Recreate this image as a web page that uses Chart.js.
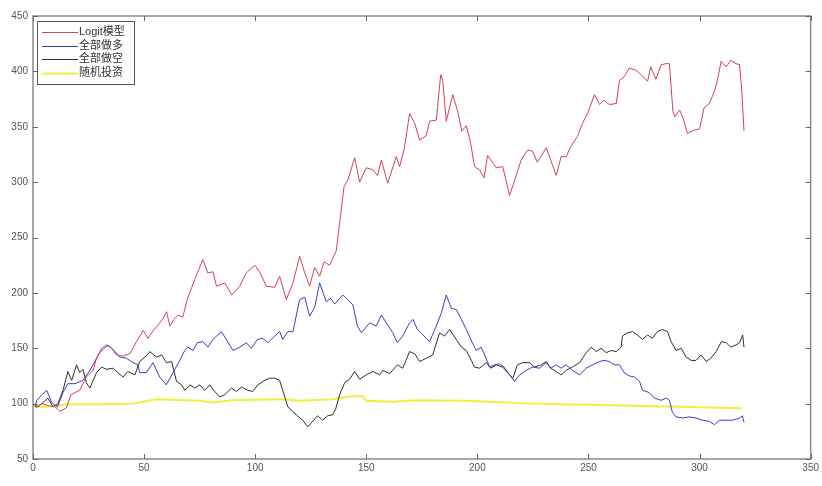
<!DOCTYPE html>
<html>
<head>
<meta charset="utf-8">
<script src="https://cdn.jsdelivr.net/npm/chart.js@4"></script>
<style>
  body { margin: 0; background: #fff; }
  #wrap { width: 822px; height: 486px; }
</style>
</head>
<body>
<div id="wrap"><canvas id="chart" width="822" height="486"></canvas></div>
<script>
// ---------------- DATA ----------------
const seriesNames = ["Logit模型", "全部做多", "全部做空", "随机投资"];

const logitX = [1, 4, 7, 10, 12, 15, 17, 21, 24, 27, 28.6, 30.9, 33.1, 35.3, 37.6, 40.6, 43.6, 46.6, 49.6, 51.8, 54.1, 56.3, 58.6, 60.1, 61.6, 63.4, 65.3, 67.4, 69.4, 72.8, 76.4, 78.7, 81, 82.6, 86.3, 89.5, 93, 96, 99.8, 102, 105, 108.8, 111, 114, 117, 120, 122, 124.5, 126.8, 129, 131, 133.5, 136.5, 138, 140, 141.7, 144.8, 147, 150, 153, 155, 156.8, 159.6, 163.5, 165, 167, 169.5, 171.8, 174, 177, 178.5, 181.5, 183.5, 184.4, 186, 188.9, 191, 193, 195, 197, 198.7, 201, 203, 204.6, 208.5, 211.4, 214.5, 217.5, 219.7, 222.6, 224.8, 227, 231, 233, 235.5, 237.7, 240, 242, 245, 247.3, 249.6, 252.7, 255, 257, 259.4, 262.5, 264, 266, 268.4, 271.4, 273.7, 276.6, 278, 280.4, 282.7, 285, 286.4, 288, 288.8, 291, 292.4, 294.5, 297.7, 300, 302, 304.4, 306.7, 308, 309.7, 312, 314, 316.4, 318, 319, 320];
const logitY = [96, 100, 98, 97, 93, 96, 108, 112, 124, 130, 141, 150, 153, 150, 144, 143, 145, 156, 166, 159, 166, 171, 177, 183, 170, 176, 180, 178, 194, 212, 230, 218, 219, 206, 209, 198, 206, 218, 225, 219, 206, 205, 215, 194, 209, 233, 220, 206, 223, 215, 228, 225, 238, 263, 296, 302, 322, 300, 313, 311, 306, 320, 299, 323, 314, 329, 362, 353, 338, 342, 355, 356, 397, 392, 355, 379, 365, 346, 351, 335, 314, 311, 304, 324, 313, 314, 288, 306, 320, 329, 328, 318, 331, 320, 306, 323, 323, 332, 341, 353, 362, 379, 370, 374, 370, 371, 392, 395, 403, 401, 397, 391, 404, 393, 406, 407, 407, 364, 359, 365, 359, 344, 347, 348, 367, 371, 382, 392, 409, 404, 410, 407, 406, 383, 346];

const longX = [1, 1.7, 4, 6.2, 8.4, 11, 13.5, 15.7, 18.9, 22.5, 25.6, 30, 33.7, 36, 39, 42, 45, 47.2, 48, 51, 54, 57, 60, 63, 65.5, 68.3, 69.7, 72, 74, 76.4, 78.7, 81, 84.8, 87, 90, 93, 96, 98.3, 101, 103.4, 105.7, 108.8, 111, 112.4, 114.7, 117, 120, 122.3, 124.5, 126.8, 129, 132, 134, 135.8, 139.4, 141.7, 144, 146, 147.8, 151.5, 154.5, 156.8, 159, 161.9, 164, 166.4, 169.5, 171, 173, 176, 178.5, 181.5, 183.8, 186, 188.3, 190.5, 192.8, 195, 197, 199.5, 201.7, 203.5, 205.5, 207.7, 210, 212, 214.5, 216.7, 219, 222, 224.8, 228, 231, 233, 235.5, 237.7, 240, 242.8, 246, 249, 251.8, 255, 257, 259.4, 261.7, 264, 266, 268.4, 270.7, 273, 274.3, 277.4, 279.7, 282.7, 285, 286.4, 287.8, 289.4, 292.3, 295.4, 298.4, 301.3, 304.4, 306.7, 309, 312, 314.7, 318, 319.3, 320];
const longY = [97, 103, 108, 112, 101, 97, 110, 118, 118, 121, 130, 146, 153, 149, 142, 141, 137, 135, 128, 128, 137, 124, 117, 128, 137, 148, 151, 148, 155, 156, 151, 158, 165, 158, 148, 151, 155, 150, 158, 159, 155, 161, 165, 158, 165, 165, 194, 196, 179, 187, 209, 192, 195, 190, 198, 194, 189, 170, 164, 173, 170, 180, 173, 164, 155, 161, 173, 176, 167, 161, 156, 170, 182, 198, 186, 185, 176, 167, 158, 148, 151, 143, 133, 135, 136, 133, 126, 120, 126, 130, 133, 132, 137, 132, 135, 132, 135, 130, 126, 132, 135, 138, 139, 138, 135, 135, 128, 125, 124, 120, 112, 110, 105, 103, 105, 103, 92, 88, 87, 88, 87, 85, 84, 81, 85, 85, 85, 87, 89, 83];

const shortX = [0, 2.2, 4.5, 6.7, 9, 11.2, 13.5, 15.7, 17.4, 19.6, 21, 22.5, 24, 25.6, 28.6, 30.9, 33, 36, 38.2, 40.5, 42.7, 45.9, 48, 50.4, 52.6, 55.6, 57.9, 60, 62.4, 64.6, 66.9, 68.3, 70.6, 72.8, 75, 77.3, 79.6, 81.8, 84, 86.3, 89.3, 91.6, 93.8, 96.7, 98.9, 101.2, 104.3, 106.6, 108.8, 111, 113.3, 114.7, 116.9, 119, 121.4, 123.6, 125.9, 128, 130.4, 132.6, 134.9, 136.2, 138, 140.3, 142.5, 144.8, 147, 150, 153, 156, 157.4, 160.5, 164, 166.4, 169.5, 171.8, 174, 177, 179.9, 183, 185.2, 187.5, 190.5, 192.8, 195, 197.3, 198.7, 201, 204, 206, 208.5, 211.4, 214.5, 216, 218, 220.3, 223.5, 225.7, 228.7, 231, 233, 235.5, 237.7, 240, 242.8, 246, 249, 251.2, 253.5, 255.7, 258, 260.2, 262.5, 264.7, 265.3, 267.6, 269.8, 272, 274.3, 276.6, 278.8, 281, 283.3, 285.6, 287.2, 289.4, 291.7, 294, 296.2, 298.4, 300.7, 303, 305, 307.5, 309.8, 312, 314, 316.4, 318, 319.4, 320];
const shortY = [100, 97, 101, 105, 97, 100, 112, 129, 121, 135, 128, 131, 119, 114, 128, 133, 131, 132, 128, 124, 129, 126, 138, 142, 147, 142, 144, 137, 138, 120, 117, 112, 117, 114, 117, 112, 117, 111, 106, 108, 114, 111, 115, 112, 111, 117, 121, 123, 123, 121, 106, 97, 93, 89, 85, 79, 84, 89, 85, 89, 90, 95, 108, 119, 122, 129, 122, 126, 129, 126, 130, 127, 135, 132, 147, 145, 138, 141, 144, 164, 161, 167, 158, 151, 148, 139, 133, 132, 137, 132, 135, 133, 126, 123, 135, 137, 137, 133, 135, 138, 132, 129, 126, 130, 133, 137, 146, 151, 147, 150, 146, 148, 147, 151, 161, 164, 165, 162, 158, 162, 159, 165, 167, 165, 156, 148, 150, 142, 139, 139, 144, 138, 141, 147, 156, 155, 151, 153, 155, 162, 151];

const randX = [0, 5, 10, 15, 30, 45, 50, 55.6, 75, 81, 90, 112.4, 120, 135, 142.5, 148.4, 150, 162, 172.5, 195, 224.8, 255, 285, 319];
const randY = [98, 97, 98, 99.5, 99.5, 100, 102, 104, 102.5, 101, 103, 104, 102.5, 104, 106.7, 106.7, 102.5, 101.7, 103, 102.5, 100, 98.8, 97.3, 95.8];

const seriesColors = ["#d2405a", "#3c3cc8", "#303030", "#f0f03a"];
const seriesWidths = [1, 1, 1, 2];

// ---------------- HELPERS ----------------
function toPoints(xs, ys) {
    return xs.map((x, i) => ({ x: x, y: ys[i] }));
}

// frame with inward ticks on all four sides (matlab style)
const framePlugin = {
    id: "frame",
    afterDraw(chart) {
        const { ctx, chartArea: a, scales } = chart;
        ctx.save();
        ctx.strokeStyle = "#8a8a8a";
        ctx.lineWidth = 1.5;
        ctx.strokeRect(a.left, a.top, a.right - a.left, a.bottom - a.top);
        ctx.lineWidth = 1;
        ctx.strokeStyle = "#666";
        const len = 5;
        ctx.beginPath();
        scales.x.ticks.forEach(t => {
            const px = Math.round(scales.x.getPixelForValue(t.value)) + 0.5;
            ctx.moveTo(px, a.bottom); ctx.lineTo(px, a.bottom - len);
            ctx.moveTo(px, a.top); ctx.lineTo(px, a.top + len);
        });
        scales.y.ticks.forEach(t => {
            const py = Math.round(scales.y.getPixelForValue(t.value)) + 0.5;
            ctx.moveTo(a.left, py); ctx.lineTo(a.left + len, py);
            ctx.moveTo(a.right, py); ctx.lineTo(a.right - len, py);
        });
        ctx.stroke();
        ctx.restore();
    }
};

// boxed legend in the upper left corner
const boxLegendPlugin = {
    id: "boxLegend",
    afterDraw(chart) {
        const ctx = chart.ctx;
        const x0 = 37, y0 = 21, w = 97, h = 63;
        ctx.save();
        ctx.fillStyle = "#fff";
        ctx.fillRect(x0, y0, w, h);
        ctx.strokeStyle = "#555";
        ctx.lineWidth = 1;
        ctx.strokeRect(x0 + 0.5, y0 + 0.5, w, h);
        ctx.font = "11px 'Liberation Sans', 'Noto Sans CJK SC', sans-serif";
        ctx.textBaseline = "middle";
        chart.data.datasets.forEach((ds, i) => {
            const y = y0 + 11 + i * 13.5;
            ctx.strokeStyle = ds.borderColor;
            ctx.lineWidth = ds.borderWidth;
            ctx.beginPath();
            ctx.moveTo(x0 + 5, Math.round(y) + 0.5);
            ctx.lineTo(x0 + 41, Math.round(y) + 0.5);
            ctx.stroke();
            ctx.fillStyle = "#333";
            ctx.fillText(ds.label, x0 + 42, y);
        });
        ctx.restore();
    }
};

// ---------------- CHART ----------------
const allX = [logitX, longX, shortX, randX];
const allY = [logitY, longY, shortY, randY];

new Chart(document.getElementById("chart"), {
    type: "line",
    data: {
        datasets: seriesNames.map((name, i) => ({
            label: name,
            data: toPoints(allX[i], allY[i]),
            borderColor: seriesColors[i],
            borderWidth: seriesWidths[i],
            pointRadius: 0,
            tension: 0,
            fill: false
        }))
    },
    options: {
        responsive: false,
        animation: false,
        layout: { padding: { top: 16, right: 9, left: 0, bottom: 0 } },
        plugins: {
            legend: { display: false },
            tooltip: { enabled: false }
        },
        scales: {
            x: {
                type: "linear",
                min: 0, max: 350,
                ticks: { stepSize: 50, color: "#555", font: { size: 10, family: "'Liberation Sans', sans-serif" }, padding: 3, maxRotation: 0 },
                grid: { display: false, drawTicks: false },
                border: { display: false },
                afterFit(scale) { scale.height = 27; }
            },
            y: {
                min: 50, max: 450,
                ticks: { stepSize: 50, color: "#555", font: { size: 10, family: "'Liberation Sans', sans-serif" }, padding: 5 },
                grid: { display: false, drawTicks: false },
                border: { display: false },
                afterFit(scale) { scale.width = 33; }
            }
        }
    },
    plugins: [framePlugin, boxLegendPlugin]
});
</script>
</body>
</html>
